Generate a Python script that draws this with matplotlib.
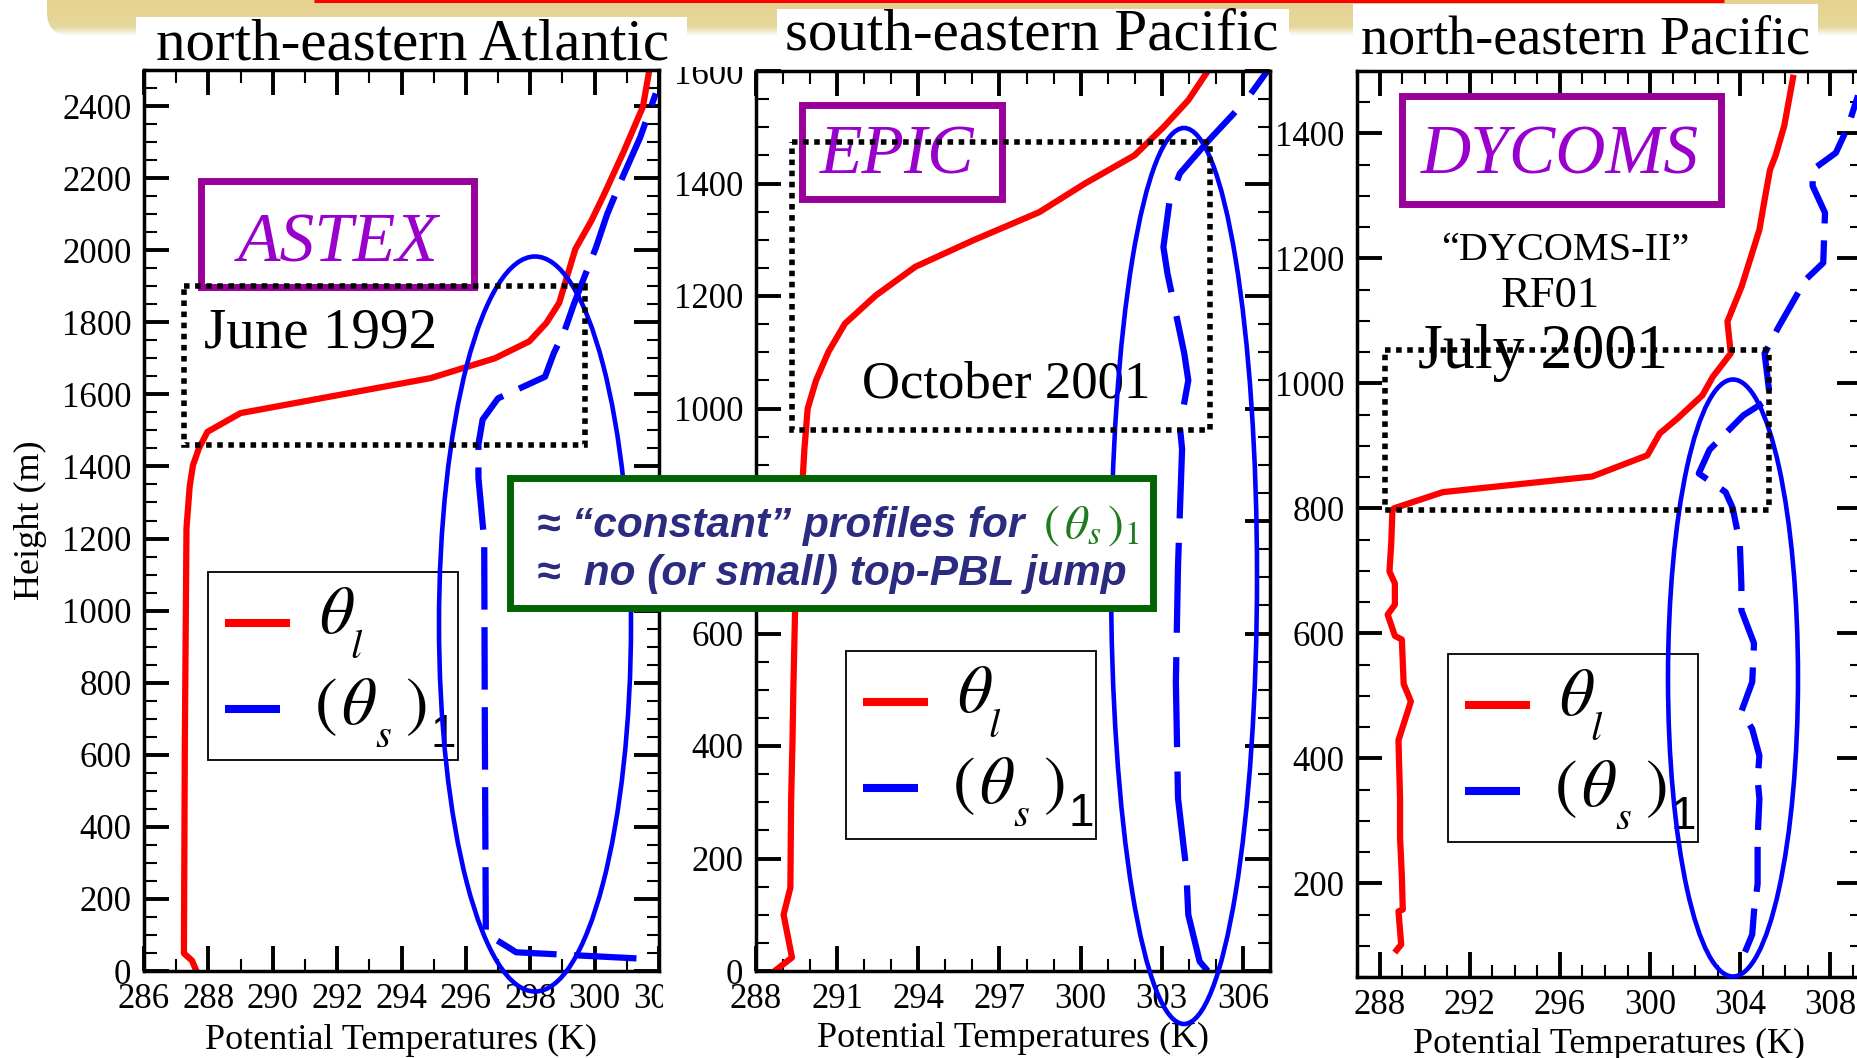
import numpy as np
import matplotlib.pyplot as plt
from matplotlib.patches import Ellipse, Rectangle, FancyBboxPatch
from matplotlib.ticker import MultipleLocator

plt.rcParams['font.family'] = ['Liberation Serif', 'DejaVu Serif']
plt.rcParams['mathtext.fontset'] = 'stix'

# ASTEX, north-eastern Atlantic (June 1992): heights in m, temperatures in K
astex_z_l = [0, 29, 49, 650, 1229, 1345, 1403, 1449, 1496, 1548, 1645, 1700, 1747,
             1798, 1854, 1914, 2003, 2082, 2156, 2273, 2398, 2500]
astex_theta_l = [287.63, 287.49, 287.24, 287.27, 287.32, 287.42, 287.52, 287.70, 287.97,
                 289.0, 294.9, 296.9, 297.97, 298.5, 298.9, 299.1, 299.4, 299.9, 300.3,
                 300.9, 301.5, 301.7]
astex_z_s = [35, 52, 64, 104, 649, 1194, 1368, 1461, 1530, 1589, 1649, 1714, 1780,
             1849, 1914, 2007, 2100, 2203, 2314, 2435]
astex_theta_s = [301.3, 297.56, 297.35, 296.62, 296.59, 296.57, 296.39, 296.39, 296.52,
                 297.0, 298.46, 298.73, 299.08, 299.35, 299.63, 300.04, 300.39, 300.87,
                 301.42, 301.9]

# EPIC, south-eastern Pacific (October 2001)
epic_z_l = [0, 24, 100, 148, 307, 410, 500, 652, 928, 1000, 1050, 1101, 1151, 1201,
            1252, 1299, 1349, 1400, 1450, 1500, 1548, 1600]
epic_theta_l = [288.69, 289.33, 289.02, 289.27, 289.30, 289.35, 289.38, 289.45, 289.79,
                289.91, 290.22, 290.68, 291.29, 292.43, 293.89, 296.03, 298.47, 300.16,
                301.99, 303.06, 303.98, 304.7]
epic_z_s = [0, 17, 100, 183, 307, 514, 721, 928, 967, 1050, 1098, 1151, 1240, 1287,
            1370, 1418, 1477, 1548, 1604]
epic_theta_s = [304.7, 304.4, 303.98, 303.9, 303.6, 303.52, 303.6, 303.75, 303.67,
                303.98, 303.83, 303.6, 303.21, 303.06, 303.29, 303.67, 304.74, 306.12,
                306.96]

# DYCOMS-II RF01, north-eastern Pacific (July 2001)
dycoms_z_l = [93, 102, 155, 158, 211, 273, 335, 429, 491, 519, 590, 596, 630, 646, 680,
              699, 745, 795, 800, 826, 851, 885, 920, 944, 981, 1011, 1048, 1099, 1155,
              1209, 1246, 1294, 1342, 1364, 1412, 1489]
dycoms_theta_l = [288.76, 288.96, 288.84, 289.03, 288.99, 288.91, 288.91, 288.84, 289.39,
                  289.07, 288.99, 288.68, 288.36, 288.68, 288.68, 288.44, 288.52, 288.57,
                  288.63, 290.81, 297.43, 299.88, 300.43, 301.22, 302.32, 302.79, 303.58,
                  303.43, 304.06, 304.53, 304.85, 305.08, 305.32, 305.56, 305.95, 306.34]
dycoms_z_s = [90, 118, 155, 199, 273, 335, 366, 404, 447, 475, 522, 584, 637, 677, 745,
              801, 826, 856, 894, 949, 976, 1048, 1091, 1166, 1193, 1273, 1316, 1342,
              1369, 1412, 1492]
dycoms_theta_s = [304.21, 304.53, 304.61, 304.77, 304.77, 304.85, 304.77, 304.85, 304.53,
                  304.05, 304.53, 304.61, 304.05, 304.05, 303.98, 303.66, 303.35, 302.16,
                  302.64, 304.14, 305.32, 305.08, 305.71, 306.9, 307.68, 307.76, 307.21,
                  307.21, 308.24, 308.79, 309.5]

regions = ['north-eastern Atlantic', 'south-eastern Pacific', 'north-eastern Pacific']
campaigns = ['ASTEX', 'EPIC', 'DYCOMS']

W, H = 1858, 1058
LW = 4.5
fig = plt.figure(figsize=(W / 100, H / 100), dpi=100)


def axes_px(left, top, right, bottom, **kw):
    return fig.add_axes([left / W, 1 - bottom / H, (right - left) / W, (bottom - top) / H], **kw)


# slide header strip behind the panels
bg = axes_px(0, 0, W, H, zorder=-5)
band = FancyBboxPatch((47, -40), W, 76, boxstyle='round,pad=0,rounding_size=24',
                      fc='none', ec='none')
bg.add_patch(band)
yy = np.linspace(0, 40, 80)
grad = np.zeros((80, 1, 4))
grad[:, 0, 0] = 0.90
grad[:, 0, 1] = np.linspace(0.82, 0.86, 80)
grad[:, 0, 2] = np.linspace(0.56, 0.64, 80)
grad[:, 0, 3] = np.clip((36 - yy) / 9, 0, 1)
im = bg.imshow(grad, extent=(47, W, 40, 0), aspect='auto', interpolation='bilinear')
im.set_clip_path(band)
bg.plot([314, 1724], [1.2, 1.2], color='red', lw=2.2, solid_capstyle='butt')
bg.set_xlim(0, W)
bg.set_ylim(H, 0)
bg.axis('off')


def style_panel(ax, xlim, ylim, xstep, label_y):
    ax.set_xlim(xlim)
    ax.set_ylim(ylim)
    ax.xaxis.set_major_locator(MultipleLocator(xstep))
    ax.xaxis.set_minor_locator(MultipleLocator(1))
    ax.yaxis.set_major_locator(MultipleLocator(200))
    ax.yaxis.set_minor_locator(MultipleLocator(50))
    ax.tick_params(which='both', direction='in', top=True, right=True, labelsize=25)
    ax.tick_params(which='major', length=18, width=2.8, pad=9)
    ax.tick_params(which='minor', length=9, width=1.5)
    for sp in ax.spines.values():
        sp.set_linewidth(2.5)
    ax.set_xlabel('Potential Temperatures (K)', fontsize=26, va='baseline')
    ax.xaxis.set_label_coords(0.5, label_y)


ax1 = axes_px(144, 70, 659, 971)
ax1.plot(astex_theta_s, astex_z_s, color='blue', lw=LW, ls=(0, (10, 2.8)))
ax1.plot(astex_theta_l, astex_z_l, color='red', lw=LW)
style_panel(ax1, (286, 302), (0, 2500), 2, -0.0866)
ax1.set_ylabel('Height (m)', fontsize=26, va='center')
ax1.yaxis.set_label_coords(-0.221, 0.5)

ax2 = axes_px(756, 71, 1270, 971)
ax2.plot(epic_theta_s, epic_z_s, color='blue', lw=LW, ls=(0, (14.4, 3.9)))
ax2.plot(epic_theta_l, epic_z_l, color='red', lw=LW)
style_panel(ax2, (288, 307), (0, 1600), 3, -0.0844)

ax3 = axes_px(1357, 71, 1862, 977)
ax3.plot(dycoms_theta_s, dycoms_z_s, color='blue', lw=LW, ls=(0, (7.2, 2.7)))
ax3.plot(dycoms_theta_l, dycoms_z_l, color='red', lw=LW)
style_panel(ax3, (287, 309.4), (50, 1500), 4, -0.0839)

# annotation layer in pixel coordinates
ov = axes_px(0, 0, W, H, zorder=10)
ov.set_xlim(0, W)
ov.set_ylim(H, 0)
ov.axis('off')

# trimmed edges of the pasted panels
ov.add_patch(Rectangle((664, 36), 90, 31, fc='white', ec='none', zorder=1))
ov.add_patch(Rectangle((663, 975), 37, 40, fc='white', ec='none', zorder=1))

# region titles
title_boxes = [(136, 17, 687, 64), (777, 9, 1289, 62), (1353, 4, 1818, 66)]
title_pos = [(413, 59, 42.5), (1032, 50, 42.5), (1586, 53, 39)]
for (l, t, r, b), (x, y, fs), name in zip(title_boxes, title_pos, regions):
    ov.add_patch(Rectangle((l, t), r - l, b - t, fc='white', ec='none', zorder=1))
    ov.text(x, y, name, fontsize=fs, ha='center', va='baseline', zorder=2)

# campaign labels
purple_boxes = [(201, 181, 474, 287), (802, 105, 1002, 199), (1402, 96, 1721, 204)]
purple_text = [(338, 262), (897, 174), (1560, 174)]
for (l, t, r, b), (x, y), name in zip(purple_boxes, purple_text, campaigns):
    ov.add_patch(Rectangle((l, t), r - l, b - t, fill=False, ec='#990099', lw=5, zorder=2))
    ov.text(x, y, name, fontsize=50, fontstyle='italic', color='#9900cc',
            ha='center', va='baseline', zorder=2)

ov.text(321, 348, 'June 1992', fontsize=41, ha='center', va='baseline', zorder=2)
ov.text(1006, 398, 'October 2001', fontsize=38, ha='center', va='baseline', zorder=2)
ov.text(1565, 260, '“DYCOMS-II”', fontsize=29, ha='center', va='baseline', zorder=2)
ov.text(1550, 307, 'RF01', fontsize=32, ha='center', va='baseline', zorder=2)
ov.text(1543, 368, 'July 2001', fontsize=46, ha='center', va='baseline', zorder=2)


def legend_box(x0, y0):
    ov.add_patch(Rectangle((x0, y0), 250, 188, fc='white', ec='black', lw=1.3, zorder=3))
    ov.plot([x0 + 17, x0 + 82], [y0 + 51, y0 + 51], color='red', lw=5.8,
            solid_capstyle='butt', zorder=3.5)
    ov.plot([x0 + 17, x0 + 72], [y0 + 137, y0 + 137], color='blue', lw=5.8,
            solid_capstyle='butt', zorder=3.5)
    ov.text(x0 + 111, y0 + 61, r'$\theta$', fontsize=49, va='baseline', zorder=3.5)
    ov.text(x0 + 142, y0 + 86, r'$l$', fontsize=29, va='baseline', zorder=3.5)
    ov.text(x0 + 106, y0 + 152, r'$($', fontsize=49, va='baseline', zorder=3.5)
    ov.text(x0 + 133, y0 + 152, r'$\theta$', fontsize=49, va='baseline', zorder=3.5)
    ov.text(x0 + 167, y0 + 175, r'$s$', fontsize=29, va='baseline', zorder=3.5)
    ov.text(x0 + 197, y0 + 152, r'$)$', fontsize=49, va='baseline', zorder=3.5)
    ov.text(x0 + 223, y0 + 175, '1', fontsize=33, family=['Liberation Sans', 'DejaVu Sans'],
            va='baseline', zorder=3.5)


for x0, y0 in [(208, 572), (846, 651), (1448, 654)]:
    legend_box(x0, y0)

# highlighted (theta_s)_1 profiles
for cx, cy, w, h in [(535, 624, 192, 735), (1184, 576, 146, 896), (1733, 678, 130, 597)]:
    ov.add_patch(Ellipse((cx, cy), w, h, fill=False, ec='blue', lw=3.3, zorder=4))

# inversion layers
for l, t, r, b in [(184, 286, 585, 445), (792, 142, 1210, 430), (1385, 350, 1769, 510)]:
    ov.add_patch(Rectangle((l, t), r - l, b - t, fill=False, ec='black', lw=4,
                           ls=(0, (1, 1)), zorder=5))

# summary box
navy = '#2b2b80'
ov.add_patch(Rectangle((510, 478), 643, 130, fc='white', ec='#006400', lw=5, zorder=6))
sans_bi = dict(fontsize=30.5, fontweight='bold', fontstyle='italic',
               family=['Liberation Sans', 'DejaVu Sans'], color=navy, va='baseline', zorder=7)
ov.text(537, 537, '≈ “constant” profiles for', **sans_bi)
ov.text(1043, 538, r'$(\,\theta_{s}\,)_{\mathit{1}}$', fontsize=34, color='#1e7b1e',
        va='baseline', zorder=7)
ov.text(537, 585, '≈  no (or small) top-PBL jump', **sans_bi)

fig.savefig('out.png', dpi=100)
